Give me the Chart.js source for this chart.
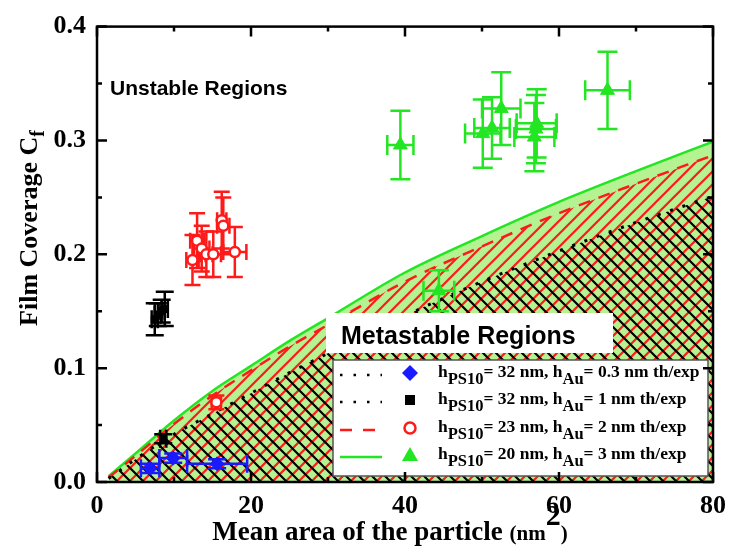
<!DOCTYPE html>
<html>
<head>
<meta charset="utf-8">
<script src="https://cdn.jsdelivr.net/npm/chart.js@4.4.1/dist/chart.umd.min.js"></script>
<style>
  body { margin: 0; background: #ffffff; }
  canvas { display: block; }
</style>
</head>
<body>
<canvas id="coverageChart" width="729" height="551"></canvas>
<script>
// Theory curves
const curveX = [1.5, 5, 10, 15, 20, 25, 30, 40, 50, 60, 70, 80];
const curveGreen = [0.005, 0.025, 0.054, 0.080, 0.102, 0.124, 0.144, 0.184, 0.216, 0.246, 0.273, 0.299];
const curveRed = [0.004, 0.023, 0.051, 0.076, 0.098, 0.119, 0.138, 0.176, 0.207, 0.236, 0.262, 0.287];
const curveBlack = [0.003, 0.020, 0.042, 0.060, 0.078, 0.096, 0.113, 0.146, 0.176, 0.203, 0.228, 0.251];

// Experimental points with errors
const blueX = [6.9, 9.9, 15.6];
const blueY = [0.012, 0.021, 0.016];
const blueXErr = [1.2, 1.8, 3.9];
const blueYErr = [0.004, 0.004, 0.004];

const blackX = [7.5, 7.9, 8.4, 8.8, 8.6];
const blackY = [0.143, 0.147, 0.150, 0.152, 0.038];
const blackXErr = [0.4, 0.4, 0.4, 0.4, 0.4];
const blackYErr = [0.014, 0.010, 0.010, 0.015, 0.004];

const redX = [12.4, 13.0, 13.6, 14.2, 15.1, 16.2, 16.4, 17.9, 15.5];
const redY = [0.195, 0.212, 0.205, 0.200, 0.200, 0.230, 0.225, 0.202, 0.070];
const redXErr = [0.8, 0.9, 1.0, 0.8, 1.0, 0.6, 0.8, 1.5, 0.6];
const redYErr = [0.022, 0.024, 0.020, 0.020, 0.020, 0.025, 0.025, 0.022, 0.006];

const greenX = [39.4, 44.4, 50.1, 51.3, 52.5, 56.8, 57.0, 57.1, 66.3];
const greenY = [0.296, 0.168, 0.306, 0.311, 0.328, 0.303, 0.310, 0.315, 0.344];
const greenXErr = [1.7, 2.0, 2.3, 2.3, 2.5, 2.6, 2.6, 2.6, 2.9];
const greenYErr = [0.030, 0.018, 0.030, 0.027, 0.032, 0.030, 0.030, 0.030, 0.034];

// Axis ticks
const xTickValues = [0, 20, 40, 60, 80];
const yTickValues = [0, 0.1, 0.2, 0.3, 0.4];
const xMinorValues = [10, 30, 50, 70];
const yMinorValues = [0.05, 0.15, 0.25, 0.35];

const legendRows = [
    { sub1: 'PS10', mid: '= 32 nm, h', sub2: 'Au', tail: '= 0.3 nm th/exp' },
    { sub1: 'PS10', mid: '= 32 nm, h', sub2: 'Au', tail: '= 1 nm th/exp' },
    { sub1: 'PS10', mid: '= 23 nm, h', sub2: 'Au', tail: '= 2 nm th/exp' },
    { sub1: 'PS10', mid: '= 20 nm, h', sub2: 'Au', tail: '= 3 nm th/exp' }
];

const GREEN = '#22e622';
const LIGHT_GREEN = '#b5f292';
const RED = '#ff1a1a';
const BLUE = '#1a1aff';
const SERIF = "'Liberation Serif', 'Times New Roman', serif";
const SANS = "'Liberation Sans', Arial, sans-serif";

/**
 * Diagonal hatch tile, '/' or '\'
 */
function makeHatch(color, dir, size, width) {
    const c = document.createElement('canvas');
    c.width = size;
    c.height = size;
    const g = c.getContext('2d');
    g.strokeStyle = color;
    g.lineWidth = width;
    g.beginPath();
    if (dir === '/') {
        g.moveTo(-1, size + 1); g.lineTo(size + 1, -1);
        g.moveTo(-2, 2); g.lineTo(2, -2);
        g.moveTo(size - 2, size + 2); g.lineTo(size + 2, size - 2);
    } else {
        g.moveTo(-1, -1); g.lineTo(size + 1, size + 1);
        g.moveTo(size - 2, -2); g.lineTo(size + 2, 2);
        g.moveTo(-2, size - 2); g.lineTo(2, size + 2);
    }
    g.stroke();
    return g.createPattern(c, 'repeat');
}

const toPoints = (xs, ys) => xs.map((x, i) => ({ x: x, y: ys[i] }));

// Error bars drawn just before each scatter dataset
const errorBars = {
    id: 'errorBars',
    beforeDatasetDraw(chart, args) {
        const ds = chart.data.datasets[args.index];
        if (!ds.errX) return;
        const xs = chart.scales.x;
        const ys = chart.scales.y;
        const ctx = chart.ctx;
        const cap = ds.capHalf;
        ctx.save();
        ctx.strokeStyle = ds.borderColor;
        ctx.lineWidth = 2.5;
        ds.data.forEach((p, i) => {
            const px = xs.getPixelForValue(p.x);
            const py = ys.getPixelForValue(p.y);
            const xl = xs.getPixelForValue(p.x - ds.errX[i]);
            const xr = xs.getPixelForValue(p.x + ds.errX[i]);
            const yt = ys.getPixelForValue(p.y + ds.errY[i]);
            const yb = ys.getPixelForValue(p.y - ds.errY[i]);
            ctx.beginPath();
            ctx.moveTo(xl, py); ctx.lineTo(xr, py);
            ctx.moveTo(px, yt); ctx.lineTo(px, yb);
            ctx.moveTo(xl, py - cap); ctx.lineTo(xl, py + cap);
            ctx.moveTo(xr, py - cap); ctx.lineTo(xr, py + cap);
            ctx.moveTo(px - cap, yt); ctx.lineTo(px + cap, yt);
            ctx.moveTo(px - cap, yb); ctx.lineTo(px + cap, yb);
            ctx.stroke();
        });
        ctx.restore();
    }
};

/**
 * Draw text with subscript / superscript pieces, returns end x
 */
function drawRich(ctx, parts, x, y) {
    parts.forEach(part => {
        ctx.font = part.font;
        ctx.fillText(part.text, x, y + (part.dy || 0));
        x += ctx.measureText(part.text).width;
    });
    return x;
}

function legendMarker(ctx, kind, x, y) {
    ctx.save();
    ctx.lineWidth = 2.5;
    if (kind === 'diamond') {
        ctx.fillStyle = BLUE;
        ctx.beginPath();
        ctx.moveTo(x, y - 8); ctx.lineTo(x + 8, y); ctx.lineTo(x, y + 8); ctx.lineTo(x - 8, y);
        ctx.closePath(); ctx.fill();
    } else if (kind === 'square') {
        ctx.fillStyle = '#000';
        ctx.fillRect(x - 5, y - 5, 10, 10);
    } else if (kind === 'circle') {
        ctx.strokeStyle = RED;
        ctx.beginPath(); ctx.arc(x, y, 5.5, 0, Math.PI * 2); ctx.stroke();
    } else {
        ctx.fillStyle = GREEN;
        ctx.beginPath();
        ctx.moveTo(x, y - 8); ctx.lineTo(x + 8, y + 6); ctx.lineTo(x - 8, y + 6);
        ctx.closePath(); ctx.fill();
    }
    ctx.restore();
}

// Region labels, legend, frame, ticks and axis titles
const decorations = {
    id: 'decorations',
    afterDatasetsDraw(chart) {
        const ctx = chart.ctx;
        ctx.save();
        ctx.fillStyle = '#000';
        ctx.font = 'bold 21px ' + SANS;
        ctx.textBaseline = 'alphabetic';
        ctx.fillText('Unstable Regions', 110, 95);

        // Metastable label box
        ctx.fillStyle = '#fff';
        ctx.fillRect(326, 313, 287, 40);
        ctx.fillStyle = '#000';
        ctx.font = 'bold 25px ' + SANS;
        ctx.fillText('Metastable Regions', 341, 344);

        // legend box
        ctx.fillStyle = '#fff';
        ctx.fillRect(333, 360, 375, 116);
        ctx.strokeStyle = '#555';
        ctx.lineWidth = 1.5;
        ctx.strokeRect(333, 360, 375, 116);

        const rowY = [373, 400, 428, 455];
        const kinds = ['diamond', 'square', 'circle', 'triangle'];
        rowY.forEach((ry, i) => {
            ctx.save();
            ctx.lineWidth = 2.5;
            if (i < 2) {
                ctx.strokeStyle = '#000';
                ctx.setLineDash([2.5, 11]);
            } else if (i === 2) {
                ctx.strokeStyle = RED;
                ctx.setLineDash([12, 11]);
            } else {
                ctx.strokeStyle = GREEN;
            }
            ctx.beginPath();
            ctx.moveTo(340, ry + 2); ctx.lineTo(382, ry + 2);
            ctx.stroke();
            ctx.restore();
            legendMarker(ctx, kinds[i], 410, ry);

            const r = legendRows[i];
            const main = 'bold 17.5px ' + SERIF;
            const sub = 'bold 16.5px ' + SERIF;
            ctx.fillStyle = '#000';
            drawRich(ctx, [
                { text: 'h', font: main },
                { text: r.sub1, font: sub, dy: 7 },
                { text: r.mid, font: main },
                { text: r.sub2, font: sub, dy: 7 },
                { text: r.tail, font: main }
            ], 438, ry + 4);
        });
        ctx.restore();
    },
    afterDraw(chart) {
        const ctx = chart.ctx;
        const area = chart.chartArea;
        const xs = chart.scales.x;
        const ys = chart.scales.y;
        ctx.save();
        ctx.strokeStyle = '#000';
        ctx.lineWidth = 2.5;
        ctx.strokeRect(area.left, area.top, area.right - area.left, area.bottom - area.top);

        ctx.beginPath();
        const tickX = (v, len) => {
            const px = xs.getPixelForValue(v);
            ctx.moveTo(px, area.bottom); ctx.lineTo(px, area.bottom - len);
            ctx.moveTo(px, area.top); ctx.lineTo(px, area.top + len);
        };
        const tickY = (v, len) => {
            const py = ys.getPixelForValue(v);
            ctx.moveTo(area.left, py); ctx.lineTo(area.left + len, py);
            ctx.moveTo(area.right, py); ctx.lineTo(area.right - len, py);
        };
        xTickValues.forEach(v => tickX(v, 10));
        xMinorValues.forEach(v => tickX(v, 5));
        yTickValues.forEach(v => tickY(v, 10));
        yMinorValues.forEach(v => tickY(v, 5));
        ctx.stroke();

        // x title
        ctx.fillStyle = '#000';
        const big = 'bold 27px ' + SERIF;
        const small = 'bold 21px ' + SERIF;
        const xParts = [
            { text: 'Mean area of the particle ', font: big },
            { text: '(nm', font: small },
            { text: '2', font: 'bold 30px ' + SERIF, dy: -15 },
            { text: ')', font: small }
        ];
        let w = 0;
        xParts.forEach(p => { ctx.font = p.font; w += ctx.measureText(p.text).width; });
        drawRich(ctx, xParts, 390 - w / 2, 540);

        // y title, rotated
        ctx.translate(37, 228);
        ctx.rotate(-Math.PI / 2);
        const yParts = [
            { text: 'Film Coverage C', font: 'bold 26px ' + SERIF },
            { text: 'f', font: 'bold 20px ' + SERIF, dy: 7 }
        ];
        w = 0;
        yParts.forEach(p => { ctx.font = p.font; w += ctx.measureText(p.text).width; });
        drawRich(ctx, yParts, -w / 2, 0);
        ctx.restore();
    }
};

const redHatch = makeHatch(RED, '/', 13, 2.2);
const blackHatch = makeHatch('#000', '\\', 13, 2.2);

const ctx = document.getElementById('coverageChart').getContext('2d');
const tickFont = { family: SERIF, size: 26, weight: 'bold' };

new Chart(ctx, {
    type: 'scatter',
    data: {
        datasets: [
            {
                data: toPoints(blueX, blueY),
                errX: blueXErr, errY: blueYErr, capHalf: 9,
                pointStyle: 'rectRot', pointRadius: 7,
                backgroundColor: BLUE, borderColor: BLUE, borderWidth: 1,
                order: 0
            },
            {
                data: toPoints(blackX, blackY),
                errX: blackXErr, errY: blackYErr, capHalf: 9,
                pointStyle: 'rect', pointRadius: 5,
                backgroundColor: '#000', borderColor: '#000', borderWidth: 1,
                order: 0
            },
            {
                data: toPoints(redX, redY),
                errX: redXErr, errY: redYErr, capHalf: 8,
                pointStyle: 'circle', pointRadius: 5,
                backgroundColor: '#fff', borderColor: RED, borderWidth: 2.5,
                order: 0
            },
            {
                data: toPoints(greenX, greenY),
                errX: greenXErr, errY: greenYErr, capHalf: 10,
                pointStyle: 'triangle', pointRadius: 8,
                backgroundColor: GREEN, borderColor: GREEN, borderWidth: 1,
                order: 0
            },
            {
                // h_Au = 0.3 nm and 1 nm theory (coincide)
                data: toPoints(curveX, curveBlack),
                showLine: true, pointRadius: 0,
                borderColor: '#000', borderWidth: 3, borderDash: [3, 10],
                backgroundColor: blackHatch, fill: 'origin',
                cubicInterpolationMode: 'monotone',
                order: 1
            },
            {
                data: toPoints(curveX, curveRed),
                showLine: true, pointRadius: 0,
                borderColor: RED, borderWidth: 2.5, borderDash: [12, 9],
                backgroundColor: redHatch, fill: 'origin',
                cubicInterpolationMode: 'monotone',
                order: 2
            },
            {
                data: toPoints(curveX, curveGreen),
                showLine: true, pointRadius: 0,
                borderColor: GREEN, borderWidth: 2.5,
                backgroundColor: LIGHT_GREEN, fill: 'origin',
                cubicInterpolationMode: 'monotone',
                order: 3
            }
        ]
    },
    options: {
        responsive: false,
        animation: false,
        layout: { padding: { top: 21, right: 16, left: 0, bottom: 0 } },
        plugins: {
            legend: { display: false },
            tooltip: { enabled: false }
        },
        scales: {
            x: {
                type: 'linear',
                min: 0, max: 80,
                afterBuildTicks: (scale) => { scale.ticks = xTickValues.map(v => ({ value: v })); },
                afterFit: (scale) => {
                    scale.height = 69;
                    scale.paddingLeft = 0;
                    scale.paddingRight = 0;
                },
                grid: { display: false, drawTicks: false },
                border: { display: false },
                ticks: {
                    color: '#000', font: tickFont, padding: 9,
                    maxRotation: 0, autoSkip: false,
                    callback: (v) => String(v)
                }
            },
            y: {
                type: 'linear',
                min: 0, max: 0.4,
                afterBuildTicks: (scale) => { scale.ticks = yTickValues.map(v => ({ value: v })); },
                afterFit: (scale) => { scale.width = 97; },
                grid: { display: false, drawTicks: false },
                border: { display: false },
                ticks: {
                    color: '#000', font: tickFont, padding: 11,
                    autoSkip: false,
                    callback: (v) => Number(v).toFixed(1)
                }
            }
        }
    },
    plugins: [errorBars, decorations]
});
</script>
</body>
</html>
